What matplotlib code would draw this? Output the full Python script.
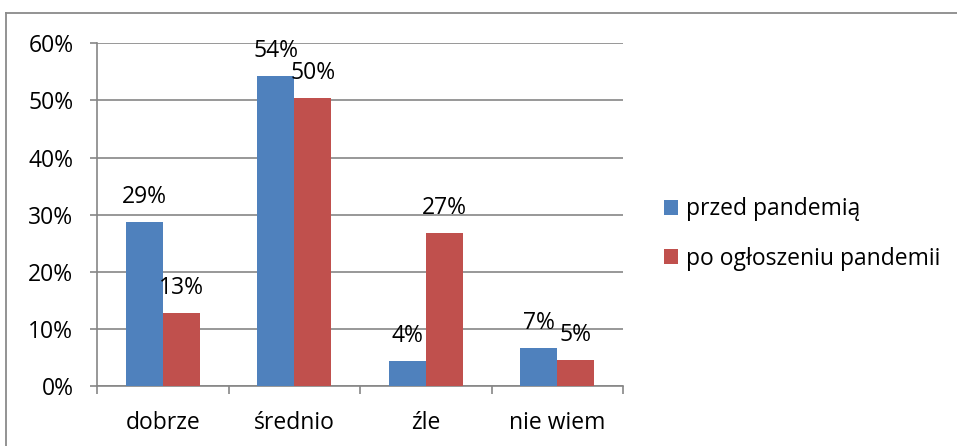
import matplotlib.pyplot as plt
from matplotlib.lines import Line2D
from matplotlib.ticker import FuncFormatter

plt.rcParams['font.family'] = ['Open Sans', 'DejaVu Sans']

categories = ['dobrze', 'średnio', 'źle', 'nie wiem']
przed = [28.8, 54.3, 4.4, 6.6]
po = [12.7, 50.4, 26.7, 4.6]
przed_labels = ['29%', '54%', '4%', '7%']
po_labels = ['13%', '50%', '27%', '5%']
series_names = ['przed pandemią', 'po ogłoszeniu pandemii']

blue = '#4F81BD'
red = '#C0504D'
grey = '#868686'
fs = 16.5

fig = plt.figure(figsize=(9.57, 4.46), dpi=100)
ax = fig.add_axes([97 / 957, 60 / 446, 526 / 957, 342.7 / 446])

w = 0.282
x = range(len(categories))
b1 = ax.bar([i - w / 2 for i in x], przed, w, color=blue, label=series_names[0], zorder=3)
b2 = ax.bar([i + w / 2 for i in x], po, w, color=red, label=series_names[1], zorder=3)

for bars, labels in ((b1, przed_labels), (b2, po_labels)):
    for rect, lab in zip(bars, labels):
        ax.annotate(lab, (rect.get_x() + rect.get_width() / 2, rect.get_height()),
                    xytext=(0, 18), textcoords='offset points',
                    ha='center', va='center', fontsize=fs)

ax.set_xlim(-0.5, 3.5)
ax.set_ylim(0, 60)
ax.set_yticks(range(0, 61, 10))
ax.yaxis.set_major_formatter(FuncFormatter(lambda v, p: '%d%%' % v))
ax.set_xticks([i + 0.5 for i in range(-1, 4)], minor=False)
ax.set_xticklabels([])
ax.set_xticks(list(x), minor=True)
ax.set_xticklabels(categories, minor=True)
ax.tick_params(axis='x', which='major', length=6, width=1.2, color=grey, direction='out')
ax.tick_params(axis='x', which='minor', length=0, pad=18, labelsize=fs)
ax.tick_params(axis='y', length=5, width=1.2, color=grey, pad=12, labelsize=fs)

ax.grid(axis='y', color=grey, lw=1.2, zorder=0)
for s in ('top', 'right'):
    ax.spines[s].set_visible(False)
for s in ('left', 'bottom'):
    ax.spines[s].set_color(grey)
    ax.spines[s].set_linewidth(1.2)

fig.legend(handles=[b1, b2], loc='center left', bbox_to_anchor=(664 / 957, 1 - 234 / 446),
           frameon=False, fontsize=fs, handlelength=0.6, handleheight=0.6,
           handletextpad=0.35, labelspacing=1.1, borderaxespad=0, borderpad=0)

# outer chart border (only top and left are visible in the crop)
fig.add_artist(Line2D([6 / 957, 6 / 957], [0, 1 - 13 / 446], color='#8a8a8a', lw=1.3,
                      transform=fig.transFigure))
fig.add_artist(Line2D([6 / 957, 1], [1 - 13 / 446, 1 - 13 / 446], color='#8a8a8a', lw=1.3,
                      transform=fig.transFigure))

fig.savefig('out.png', dpi=100)
